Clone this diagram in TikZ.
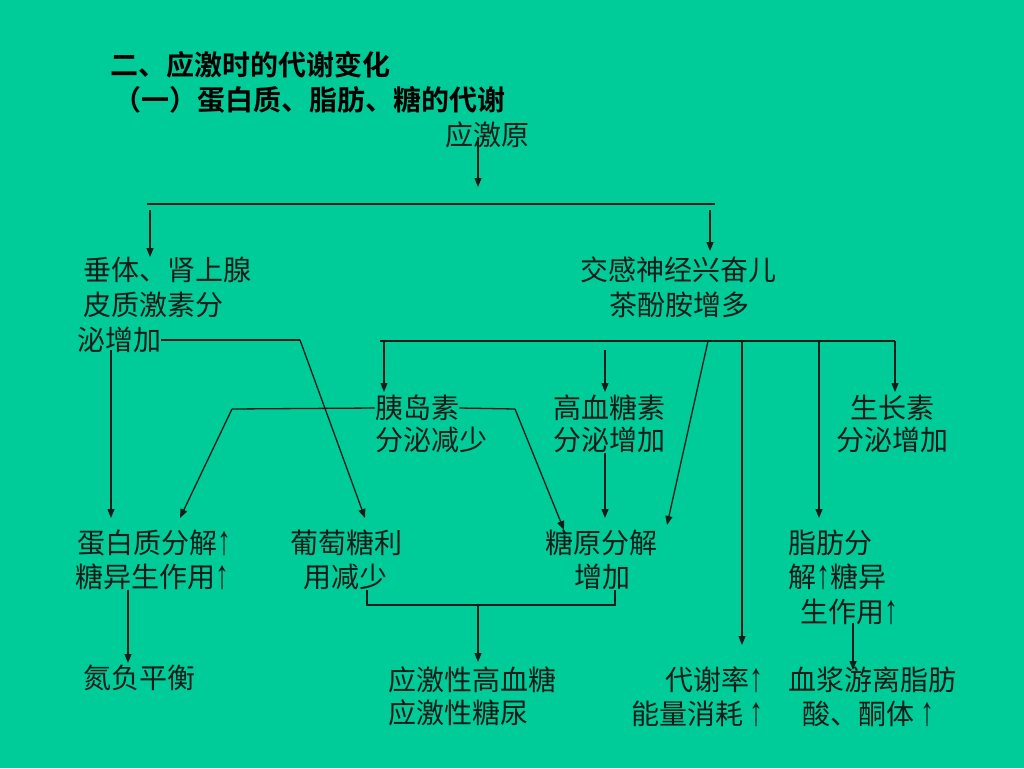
\documentclass[tikz,border=0pt]{standalone}
\usepackage{graphicx}
\usepackage{fontspec}
\setmainfont{Noto Sans CJK SC}[BoldFont={Noto Sans CJK SC Bold}]
\newfontfamily\latfont{Liberation Serif}
\newcommand\uparr{\smash{\raisebox{-0.02em}{\scalebox{1}[1.45]{\latfont ↑}}}}
\usetikzlibrary{arrows.meta}
\definecolor{bg}{RGB}{0,204,153}
\definecolor{ink}{RGB}{18,28,24}
\begin{document}
\begin{tikzpicture}[x=1pt,y=-1pt,
  txt/.style={anchor=west,inner sep=0pt,font=\fontsize{28}{34}\selectfont,text=ink},
  txte/.style={txt,anchor=east},
  ttl/.style={anchor=west,inner sep=0pt,font=\fontsize{28}{34}\selectfont\bfseries,text=black},
  ln/.style={draw=ink,line width=1.3pt},
  arr/.style={ln,-{Triangle[length=9pt,width=7pt]}}]
\fill[bg] (0,0) rectangle (1024,768);
\useasboundingbox (0,0) rectangle (1024,768);

% titles
\node[ttl] (t1) at (110,65) {二、应激时的代谢变化};
\node[ttl] (t2) at (113,100) {（一）蛋白质、脂肪、糖的代谢};

% level 0
\node[txt] (src) at (445,135) {应激原};

% level 1
\node[txt] (pit1) at (83,270) {垂体、肾上腺};
\node[txt] (pit2) at (83,305) {皮质激素分};
\node[txt] (pit3) at (77,340) {泌增加};
\node[txt] (sym1) at (580,270) {交感神经兴奋儿};
\node[txt] (sym2) at (609,305) {茶酚胺增多};

% level 2
\node[txt] (ins1) at (375,408) {胰岛素};
\node[txt] (ins2) at (375,440) {分泌减少};
\node[txt] (glu1) at (553,408) {高血糖素};
\node[txt] (glu2) at (553,440) {分泌增加};
\node[txt] (gh1) at (850,408) {生长素};
\node[txt] (gh2) at (836,440) {分泌增加};

% level 3
\node[txt] (pro1) at (77,543) {蛋白质分解\uparr};
\node[txt] (pro2) at (75,577) {糖异生作用\uparr};
\node[txt] (gut1) at (290,543) {葡萄糖利};
\node[txt] (gut2) at (303,577) {用减少};
\node[txt] (gly1) at (545,543) {糖原分解};
\node[txt] (gly2) at (574,577) {增加};
\node[txt] (fat1) at (788,543) {脂肪分};
\node[txt] (fat2) at (788,577) {解\uparr 糖异};
\node[txt] (fat3) at (800,612) {生作用\uparr};

% level 4
\node[txt] (nit) at (83,678) {氮负平衡};
\node[txt] (hyp1) at (388,680) {应激性高血糖};
\node[txt] (hyp2) at (388,713) {应激性糖尿};
\node[txte] (met1) at (764,680) {代谢率\uparr};
\node[txte] (met2) at (764,714) {能量消耗 \uparr};
\node[txt] (ffa1) at (788,680) {血浆游离脂肪};
\node[txt] (ffa2) at (802,714) {酸、酮体 \uparr};

% coordinates
\coordinate (srcA) at (478,137);
\coordinate (srcB) at (478,187);
\coordinate (barL) at (147,204);
\coordinate (barR) at (715,204);
\coordinate (bL) at (150,210);
\coordinate (bR) at (710,210);
\coordinate (pitE) at (300,340);
\coordinate (pitD) at (111,350);
\coordinate (symL) at (380,341);
\coordinate (symR) at (895,341);
\coordinate (sIns) at (384,341);
\coordinate (sGlu) at (605,350);
\coordinate (sGly) at (708,341);
\coordinate (sMet) at (742,341);
\coordinate (sFat) at (819,341);
\coordinate (insL) at (232,409);
\coordinate (insR) at (515,409);
\coordinate (brL) at (367,590);
\coordinate (brLb) at (367,605);
\coordinate (brR) at (615,590);
\coordinate (brRb) at (615,605);
\coordinate (brM) at (478,605);

% connectors
\draw[arr] (srcA) -- (srcB);
\draw[ln] (barL) -- (barR);
\draw[arr] (bL) -- (150,257);
\draw[arr] (bR) -- (710,251);

\draw[ln] (pit3.east) -- (pitE);
\draw[arr] (pitE) -- (365,518);
\draw[arr] (pitD) -- (111,518);

\draw[ln] (symL) -- (symR);
\draw[arr] (sIns) -- (384,392);
\draw[arr] (sGlu) -- (605,392);
\draw[arr] (symR) -- (895,392);
\draw[arr] (sGly) -- (667,525);
\draw[arr] (sMet) -- (742,645);
\draw[arr] (sFat) -- (819,518);

\draw[ln] (ins1.west) -- (insL);
\draw[arr] (insL) -- (180,518);
\draw[ln] (ins1.east) -- (insR);
\draw[arr] (insR) -- (564,530);

\draw[arr] (605,453) -- (605,518);

\draw[ln] (brL) -- (brLb) -- (brRb) -- (brR);
\draw[arr] (brM) -- (478,662);
\draw[arr] (128,590) -- (128,663);
\draw[arr] (853,623) -- (853,670);
\end{tikzpicture}
\end{document}
